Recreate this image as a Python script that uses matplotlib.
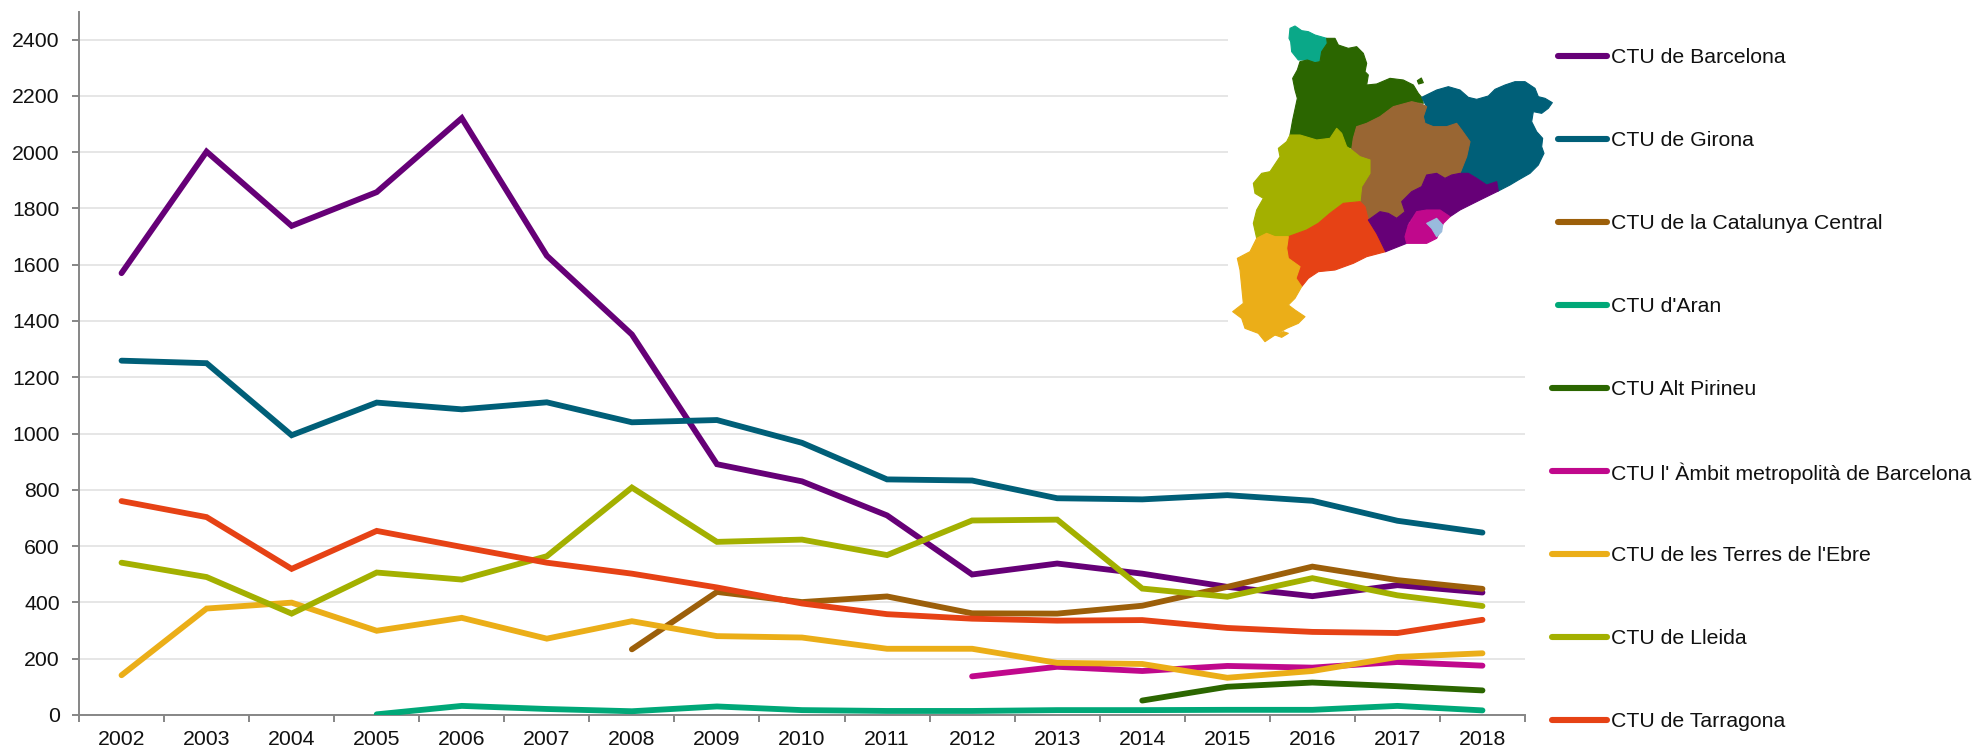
import numpy as np
import matplotlib
matplotlib.use('Agg')
import matplotlib.pyplot as plt
from matplotlib.lines import Line2D
from matplotlib.patches import Polygon

plt.rcParams['font.family'] = ['Liberation Sans', 'DejaVu Sans']

W, H = 1975, 749

years = list(range(2002, 2019))

# values, nan = no data that year
n = np.nan
barcelona = [1570, 2002, 1738, 1858, 2121, 1632, 1352, 891, 830, 709, 499, 538, 502, 455, 422, 461, 435]
girona = [1259, 1250, 994, 1110, 1086, 1111, 1040, 1048, 967, 837, 833, 770, 766, 781, 761, 690, 648]
central = [n, n, n, n, n, n, 233, 437, 401, 421, 361, 360, 388, 455, 527, 479, 448]
aran = [n, n, n, 2, 32, 21, 13, 30, 17, 14, 14, 17, 17, 18, 18, 32, 16]
alt_pirineu = [n, n, n, n, n, n, n, n, n, n, n, n, 51, 100, 115, 102, 87]
ambit = [n, n, n, n, n, n, n, n, n, n, 137, 171, 156, 174, 168, 188, 175]
terres = [141, 378, 399, 299, 345, 271, 333, 280, 275, 235, 235, 185, 181, 132, 156, 206, 219]
lleida = [541, 490, 360, 506, 481, 564, 808, 615, 623, 568, 691, 694, 449, 420, 486, 425, 387]
tarragona = [760, 703, 519, 654, 597, 541, 502, 453, 396, 358, 342, 335, 337, 309, 295, 291, 338]

series = [barcelona, girona, central, aran, alt_pirineu, ambit, terres, lleida, tarragona]
labels = ['CTU de Barcelona', 'CTU de Girona', 'CTU de la Catalunya Central', "CTU d'Aran",
          'CTU Alt Pirineu', "CTU l' Àmbit metropolità de Barcelona", "CTU de les Terres de l'Ebre",
          'CTU de Lleida', 'CTU de Tarragona']
colors = ['#660077', '#005F78', '#9C5F0A', '#00A878', '#2B6600', '#C0088C', '#EBAE18', '#A3B000', '#E64215']
handle_left = [1558, 1558, 1558, 1558, 1552, 1552, 1552, 1552, 1552]
yticks = list(range(0, 2401, 200))

# map outline
map_aran = [(210,55),(225,48),(245,62),(265,65),(285,75),(320,85),(322,100),(305,125),(300,155),(285,158),
            (262,150),(235,150),(215,125),(212,95),(207,85)]
map_alt = [(320,85),(345,85),(355,105),(385,115),(410,110),(430,130),(440,160),(435,185),(445,195),(440,225),
           (470,222),(510,205),(550,210),(580,225),(595,250),(605,262),(610,280),(575,275),(520,290),(480,320),
           (440,340),(410,350),(400,385),(395,415),(380,410),(365,370),(350,355),(330,385),(290,390),(240,375),
           (210,375),(218,330),(232,265),(225,240),(218,205),(232,180),(240,155),(262,150),(285,158),(300,155),
           (305,125),(322,100)]
map_alt_islet = [(592,212),(604,204),(610,218),(596,222)]
map_girona = [(605,262),(650,240),(685,230),(720,240),(745,262),(770,268),(805,258),(825,238),(855,225),(885,215),
              (915,215),(945,235),(955,260),(975,265),(997,278),(985,295),(965,310),(940,305),(935,335),(950,365),
              (968,385),(965,410),(972,430),(955,465),(930,490),(895,510),(870,525),(835,543),(830,515),(800,525),
              (770,505),(745,490),(720,490),(740,440),(750,395),(725,360),(710,340),(680,350),(640,350),(615,340),
              (610,320),(620,290)]
map_central = [(575,275),(605,282),(620,290),(610,320),(615,340),(640,350),(680,350),(710,340),(725,360),(750,395),
               (740,440),(720,490),(695,495),(675,505),(650,490),(620,495),(605,530),(575,545),(545,575),(555,605),
               (530,625),(505,610),(480,605),(445,630),(435,590),(420,575),(425,530),(450,490),(450,450),(420,440),
               (395,420),(400,385),(410,350),(440,340),(480,320),(520,290)]
map_lleida = [(210,375),(240,375),(290,390),(330,385),(350,355),(365,370),(380,410),(395,420),(420,440),(450,450),
              (450,490),(425,530),(420,575),(370,580),(330,610),(295,640),(260,660),(205,680),(165,680),(140,670),
              (110,685),(100,640),(110,600),(130,565),(105,550),(100,520),(125,490),(150,485),(180,440),(175,415),(200,395)]
map_tarragona = [(420,575),(435,590),(445,630),(470,670),(480,690),(497,725),(440,740),(400,760),(345,780),(295,785),
                 (265,805),(245,830),(228,805),(240,770),(205,745),(200,715),(205,680),(260,660),(295,640),(330,610),(370,580)]
map_terres = [(110,685),(140,670),(165,680),(205,680),(200,715),(205,745),(240,770),(228,805),(245,830),(225,865),
              (205,885),(225,900),(255,920),(235,940),(200,955),(165,975),(135,995),(115,970),(75,955),(65,925),
              (38,905),(70,880),(65,830),(60,780),(52,745),(90,725)]
map_terres_islet = [(165,975),(190,965),(205,970),(185,982)]
map_barcelona = [(620,495),(650,490),(675,505),(695,495),(720,490),(745,490),(770,505),(800,525),(830,515),(835,543),
                 (780,570),(720,600),(690,620),(660,600),(620,600),(590,605),(565,640),(555,680),(560,700),(497,725),
                 (480,690),(470,670),(445,630),(480,605),(505,610),(530,625),(555,605),(545,575),(575,545),(605,530)]
map_ambit = [(590,605),(620,600),(660,600),(690,620),(670,640),(650,685),(620,700),(560,700),(555,680),(565,645)]
map_bcn = [(620,640),(650,625),(668,645),(665,665),(650,680),(635,655)]

map_parts = [(map_aran, '#0AA888'), (map_alt, '#2B6600'), (map_alt_islet, '#2B6600'), (map_girona, '#005F78'),
             (map_central, '#996633'), (map_lleida, '#A3B000'), (map_tarragona, '#E64215'), (map_terres, '#EBAE18'),
             (map_terres_islet, '#EBAE18'), (map_barcelona, '#660077'), (map_ambit, '#C0088C'), (map_bcn, '#99BBDD')]


def px_box(left, top, right, bottom):
    return [left / W, 1 - bottom / H, (right - left) / W, (bottom - top) / H]


fig = plt.figure(figsize=(W / 100, H / 100), dpi=100)
ax = fig.add_axes(px_box(79, 11.5, 1525, 714.9))

x = np.arange(len(years))
for vals, col in zip(series, colors):
    ax.plot(x, vals, color=col, lw=4.2, solid_capstyle='round', solid_joinstyle='miter', zorder=3)

ax.set_xlim(-0.5, len(years) - 0.5)
ax.set_ylim(0, 2500)
ax.set_yticks(yticks)
ax.set_xticks(x)
ax.set_xticklabels(years)
ax.set_xticks(np.arange(-0.5, len(years)), minor=True)
ax.grid(axis='y', color='#E2E2E2', lw=1.2, zorder=0)
ax.set_axisbelow(True)
for side in ['top', 'right']:
    ax.spines[side].set_visible(False)
for side in ['left', 'bottom']:
    ax.spines[side].set_color('#868686')
    ax.spines[side].set_linewidth(1.4)
ax.tick_params(axis='y', length=4.8, width=1.4, color='#868686', labelsize=15.3, pad=9, labelcolor='#111111')
ax.tick_params(axis='x', which='major', length=0, labelsize=15.3, pad=11, labelcolor='#111111')
ax.tick_params(axis='x', which='minor', length=4.8, width=1.4, color='#868686')

# map picture sits on a white box that hides the gridlines
map_left, map_top, map_right, map_bottom = 1228, 10, 1556, 350
mp = fig.add_axes(px_box(map_left, map_top, map_right, map_bottom), zorder=5)
mp.set_xlim((map_left - 1220) * 3, (map_right - 1220) * 3)
mp.set_ylim((map_bottom - 10) * 3, (map_top - 10) * 3)
mp.set_xticks([])
mp.set_yticks([])
for s in mp.spines.values():
    s.set_visible(False)
for pts, col in map_parts:
    mp.add_patch(Polygon(pts, closed=True, facecolor=col, edgecolor=col, lw=0.8, joinstyle='round'))

# legend by hand, entries sit at fixed steps down the right side
for i, (lab, col) in enumerate(zip(labels, colors)):
    yp = 56 + i * 83.05
    fig.add_artist(Line2D([handle_left[i] / W, 1607 / W], [1 - yp / H, 1 - yp / H], color=col, lw=4.4,
                          solid_capstyle='round', zorder=10))
    fig.text(1611 / W, 1 - (yp + 1.5) / H, lab, fontsize=15.3, color='#111111', va='center', ha='left', zorder=10)

fig.savefig('out.png', dpi=100)
